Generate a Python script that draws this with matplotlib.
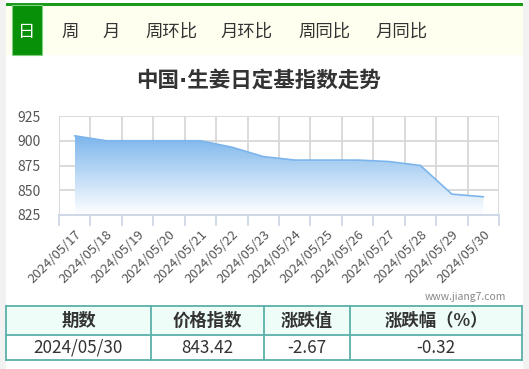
import numpy as np
import matplotlib.pyplot as plt
from matplotlib.patches import Rectangle
from matplotlib.colors import LinearSegmentedColormap

plt.rcParams['font.family'] = ['Noto Sans CJK SC', 'DejaVu Sans']

# data
dates = ["2024/05/17", "2024/05/18", "2024/05/19", "2024/05/20", "2024/05/21",
         "2024/05/22", "2024/05/23", "2024/05/24", "2024/05/25", "2024/05/26",
         "2024/05/27", "2024/05/28", "2024/05/29", "2024/05/30"]
values = [905.0, 900.0, 900.0, 900.0, 900.0, 893.5, 884.0, 880.5, 880.5, 880.5,
          879.0, 875.0, 846.09, 843.42]
yticks = [825, 850, 875, 900, 925]
tabs = ["日", "周", "月", "周环比", "月环比", "周同比", "月同比"]
tab_x = [27, 70, 111, 171, 247, 324, 402]
table_head = ["期数", "价格指数", "涨跌值", "涨跌幅（%）"]
table_row = ["2024/05/30", "843.42", "-2.67", "-0.32"]
col_edges = [6, 151, 264, 350, 522]

W, H = 529, 369
fig = plt.figure(figsize=(W / 100, H / 100), dpi=100)
fig.patch.set_facecolor('white')

# overlay axes in pixel coordinates for the page decoration
bg = fig.add_axes([0, 0, 1, 1])
bg.set_xlim(0, W)
bg.set_ylim(H, 0)
bg.axis('off')
bg.add_patch(Rectangle((0, 0), 6, H, color='#f2f2f2', lw=0))
bg.add_patch(Rectangle((523, 0), 6, H, color='#f2f2f2', lw=0))
bg.add_patch(Rectangle((6, 5), 517, 50, color='#fffff0', lw=0))
bg.add_patch(Rectangle((6, 3), 517, 2.5, color='#1a9a1a', lw=0))
bg.add_patch(Rectangle((12, 5), 30, 50, facecolor='#089008', edgecolor='#7fd07f', lw=0.8))
for i, t in enumerate(tabs):
    bg.text(tab_x[i], 32, t, ha='center', va='center', fontsize=12.5,
            color='white' if i == 0 else '#333333')

# DejaVu first so the middle dot stays narrow
bg.text(259, 80, "中国·生姜日定基指数走势", ha='center', va='center',
        fontsize=15.5, fontweight='bold', color='#333333',
        family=['DejaVu Sans', 'Noto Sans CJK SC'])
bg.text(465, 297, "www.jiang7.com", ha='center', va='center', fontsize=7.5, color='#888888')

# table
bg.add_patch(Rectangle((6, 306), 516, 29, facecolor='#effdf9', lw=0))
for y in [306, 335, 360]:
    bg.plot([6, 522], [y, y], color='#5ab0aa', lw=1.3)
for x in col_edges:
    bg.plot([x, x], [306, 360], color='#5ab0aa', lw=1.3)
for i in range(4):
    cx = (col_edges[i] + col_edges[i + 1]) / 2
    bg.text(cx, 321, table_head[i], ha='center', va='center', fontsize=12.5,
            fontweight='bold', color='#333333')
    bg.text(cx, 348, table_row[i], ha='center', va='center', fontsize=12.3, color='#333333')

# chart
ax = fig.add_axes([59 / W, 1 - 215 / H, 440 / W, 99 / H])
x = np.arange(len(values))
ax.set_xlim(-0.5, len(values) - 0.5)
ax.set_ylim(825, 925)

poly = ax.fill_between(x, values, 825, color='none', lw=0)
cmap = LinearSegmentedColormap.from_list('g', ['#ffffff', '#7cb5ec'])
grad = np.linspace(0, 1, 256).reshape(-1, 1)
im = ax.imshow(grad, cmap=cmap, aspect='auto', origin='lower',
               extent=[0, len(values) - 1, 825, max(values)], zorder=2)
im.set_clip_path(poly.get_paths()[0], transform=ax.transData)
ax.plot(x, values, color='#7cb5ec', lw=1.2, zorder=3)

ax.set_yticks(yticks)
ax.set_xticks(x)
ax.set_xticklabels(dates, rotation=45, ha='right', rotation_mode='anchor')
ax.set_xticks(np.arange(-0.5, len(values)), minor=True)
ax.tick_params(axis='x', which='major', length=0, pad=9, labelsize=9.5, labelcolor='#555555')
ax.tick_params(axis='x', which='minor', length=8, width=1.3, color='#cfd8e6')
ax.tick_params(axis='y', length=0, pad=13, labelsize=10, labelcolor='#555555')
ax.grid(True, which='minor', axis='x', color='#d8d8d8', lw=1.3, zorder=1)
ax.grid(True, which='major', axis='y', color='#d8d8d8', lw=1.3, zorder=1)
ax.set_axisbelow(True)
for s in ['top', 'right', 'left']:
    ax.spines[s].set_visible(False)
ax.spines['bottom'].set_color('#cfd8e6')
ax.spines['bottom'].set_linewidth(1.5)
ax.patch.set_alpha(0)

fig.savefig('out.png', dpi=100)
